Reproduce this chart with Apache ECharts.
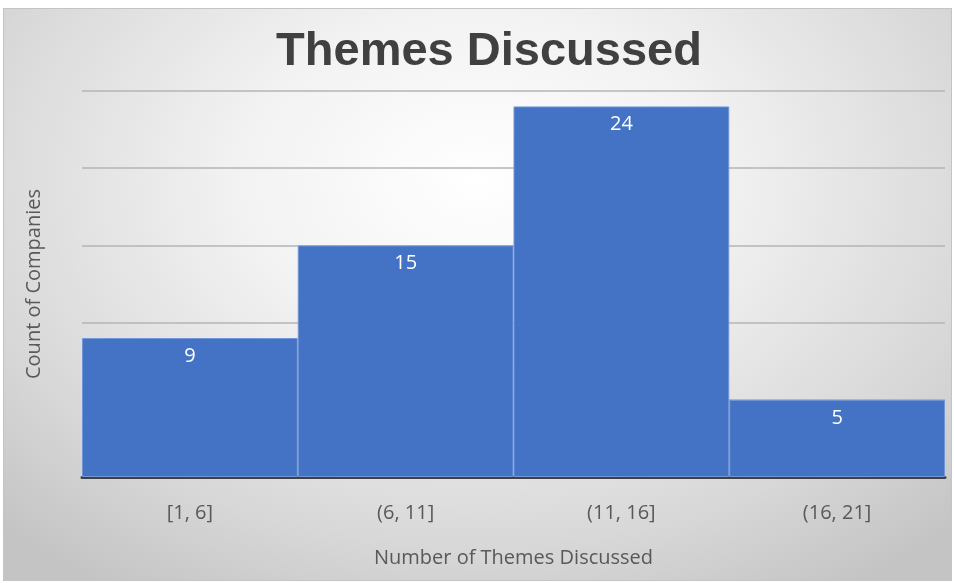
<!DOCTYPE html>
<html><head><meta charset="utf-8">
<script src="https://cdn.jsdelivr.net/npm/echarts@6/dist/echarts.min.js"></script>
<style>
html,body{margin:0;padding:0;background:#fff;}
#bg{position:absolute;left:3px;top:8px;width:947px;height:571px;border:1px solid #c4c4c4;
background:radial-gradient(ellipse 72% 85% at 50% 30%, #ffffff 0%, #f2f2f2 35%, #d8d8d8 75%, #c4c4c4 100%);}
#chart{position:absolute;left:0;top:0;width:954px;height:583px;}
</style></head>
<body>
<div id="bg"></div>
<div id="chart"></div>
<script>
const categories = ['[1, 6]', '(6, 11]', '(11, 16]', '(16, 21]'];
const counts = [9, 15, 24, 5];
const titleText = 'Themes Discussed';
const xName = 'Number of Themes Discussed';
const yName = 'Count of Companies';

const chart = echarts.init(document.getElementById('chart'), null, {renderer:'canvas'});
chart.setOption({
  backgroundColor: 'transparent',
  animation: false,
  title: {
    text: titleText, left: 484, textAlign: 'center', top: 24,
    textStyle: {fontFamily: 'Liberation Sans, Arial', fontWeight: 'bold', fontSize: 47, color: '#404040'}
  },
  grid: {left: 82, right: 9, top: 91, bottom: 106},
  xAxis: {
    type: 'category', data: categories,
    name: xName, nameLocation: 'middle', nameGap: 71,
    nameTextStyle: {fontFamily: 'Open Sans', fontSize: 20, color: '#595959'},
    axisLine: {show: true, lineStyle: {color: '#404040', width: 3}},
    axisTick: {show: false},
    axisLabel: {fontFamily: 'Open Sans', fontSize: 20, color: '#595959', margin: 26}
  },
  yAxis: {
    type: 'value', min: 0, max: 25, interval: 5,
    name: yName, nameLocation: 'middle', nameGap: 38, nameRotate: 90,
    nameTextStyle: {fontFamily: 'Open Sans', fontSize: 20, color: '#595959'},
    axisLine: {show: false}, axisTick: {show: false}, axisLabel: {show: false},
    splitLine: {lineStyle: {color: '#b4b4b4', width: 1.5}}
  },
  series: [{
    type: 'bar', data: counts, barCategoryGap: '0%',
    itemStyle: {color: '#4472C4', borderColor: '#7196d8', borderWidth: 1},
    label: {show: true, position: 'insideTop', distance: 8, color: '#ffffff',
      fontFamily: 'Open Sans', fontSize: 20}
  }]
});
</script>
</body></html>
